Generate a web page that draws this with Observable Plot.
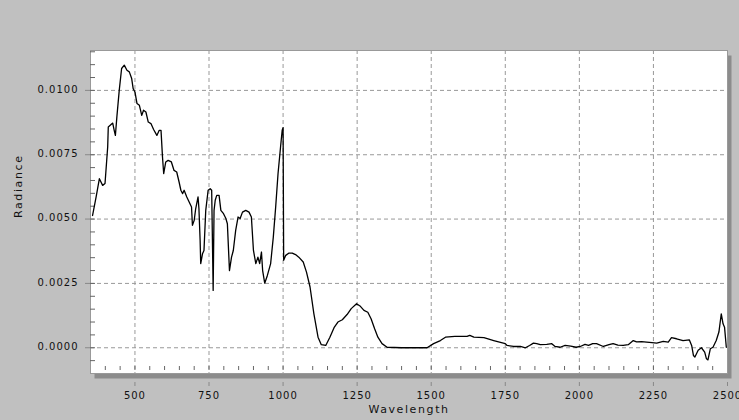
<!DOCTYPE html>
<html><head><meta charset="utf-8">
<script src="https://cdn.jsdelivr.net/npm/d3@7"></script>
<script src="https://cdn.jsdelivr.net/npm/@observablehq/plot@0.6"></script>
<style>
html,body{margin:0;padding:0;background:#c0c0c0;overflow:hidden;}
</style></head><body><div id="chart"></div>
<script>
const wavelength = [357,369,380,391,399,408,410,425,430,434,439,447,455,464,473,481,489,494,500,507,515,523,529,537,545,554,563,574,582,588,593,597,604,612,623,632,641,649,655,661,666,675,683,691,694,700,705,713,716,720,722,728,733,739,747,754,759,764,767,771,776,784,790,799,807,812,816,819,826,832,840,848,855,863,874,885,893,900,908,915,921,927,931,938,947,958,967,975,983,992,997,1000,1002,1009,1020,1031,1042,1053,1068,1079,1091,1104,1118,1129,1144,1158,1172,1185,1200,1216,1230,1248,1261,1273,1286,1297,1309,1320,1334,1351,1400,1486,1508,1531,1548,1580,1621,1630,1644,1678,1711,1750,1756,1778,1801,1818,1832,1845,1856,1868,1890,1907,1918,1935,1952,1971,1989,2003,2019,2031,2045,2058,2081,2100,2114,2130,2148,2165,2182,2193,2210,2227,2245,2261,2283,2300,2311,2328,2350,2371,2379,2385,2390,2401,2412,2423,2429,2434,2442,2451,2462,2471,2479,2485,2490,2496];
const radiance = [0.00514,0.00586,0.00657,0.00631,0.00638,0.0078,0.00858,0.00873,0.00845,0.00825,0.00897,0.0100,0.01085,0.01098,0.01078,0.01072,0.01046,0.01007,0.00994,0.00949,0.00942,0.00903,0.00923,0.00916,0.00877,0.00871,0.00848,0.00825,0.00845,0.00845,0.00741,0.00677,0.00722,0.00728,0.00722,0.00689,0.00683,0.00644,0.00612,0.00599,0.00612,0.00586,0.00566,0.00547,0.00476,0.00495,0.0054,0.00586,0.0054,0.00417,0.00327,0.00365,0.00378,0.00534,0.00612,0.00618,0.00612,0.00223,0.00534,0.00573,0.00592,0.00592,0.00534,0.00521,0.00502,0.00482,0.00378,0.0030,0.00352,0.00378,0.00456,0.00508,0.00502,0.00527,0.00534,0.00527,0.00508,0.00378,0.00327,0.00352,0.00327,0.00372,0.0030,0.00251,0.00281,0.00327,0.0043,0.00547,0.00677,0.00787,0.00845,0.00855,0.00340,0.00359,0.00368,0.00368,0.00362,0.00352,0.00333,0.00294,0.00236,0.00132,0.00041,0.00012,0.00009,0.00041,0.00078,0.0010,0.00109,0.00129,0.00152,0.00171,0.00161,0.00145,0.00138,0.00113,0.00074,0.00041,0.00016,0.00002,0.0,0.0,0.00016,0.00028,0.00041,0.00044,0.00044,0.00048,0.00041,0.00039,0.00028,0.00016,0.00009,0.00005,0.00005,0.0,0.00009,0.00018,0.00016,0.00012,0.00013,0.00016,0.00005,0.00002,0.00009,0.00006,0.00002,0.00005,0.00013,0.00009,0.00016,0.00016,0.00005,0.00012,0.00016,0.00010,0.00009,0.00012,0.00028,0.00023,0.00024,0.00022,0.00020,0.00018,0.00025,0.00022,0.00039,0.00035,0.00028,0.00031,0.00009,-0.0003,-0.00036,-0.0001,0.0,-0.00017,-0.00043,-0.00047,-0.00004,0.00002,0.00028,0.00061,0.00132,0.00093,0.0008,0.00002];
const xTicks = [500,750,1000,1250,1500,1750,2000,2250,2500];
const yTicks = [0,0.0025,0.005,0.0075,0.01];
const xTickLabels = ["500","750","1000","1250","1500","1750","2000","2250","2500"];
const yTickLabels = ["0.0000","0.0025","0.0050","0.0075","0.0100"];
const xMinor = d3.range(400, 2500, 50);
const yMinor = d3.range(-0.0005, 0.0116, 0.0005);
const xLabel = "Wavelength";
const yLabel = "Radiance";

const data = wavelength.map((w, i) => ({w, r: radiance[i]}));

const chart = Plot.plot({
  width: 739, height: 420,
  marginLeft: 90, marginRight: 12, marginTop: 50, marginBottom: 47,
  style: {background: "#c0c0c0", fontFamily: "DejaVu Sans", fontSize: "10px", overflow: "visible", letterSpacing: "1px"},
  x: {domain: [350, 2500], axis: null},
  y: {domain: [-0.001, 0.01155], axis: null},
  marks: [
    Plot.frame({fill: "#8c8c8c", stroke: null, dx: 4, dy: 5}),
    Plot.frame({fill: "white", stroke: "#999"}),
    Plot.ruleX(xTicks, {stroke: "#999", strokeDasharray: "4,3", strokeOpacity: 1}),
    Plot.ruleY(yTicks, {stroke: "#999", strokeDasharray: "4,3", strokeOpacity: 1}),
    Plot.ruleX(xMinor, {stroke: "#666", insetTop: 316, insetBottom: 3}),
    Plot.ruleY(yMinor, {stroke: "#666", insetRight: 632}),
    Plot.line(data, {x: "w", y: "r", stroke: "black", strokeWidth: 1.3}),
    Plot.ruleX(xTicks, {stroke: "#888", insetTop: 332, insetBottom: -13}),
    Plot.ruleY(yTicks, {stroke: "#888", insetLeft: -5, insetRight: 637}),
    Plot.text(xTicks, {x: d => d, text: (d, i) => xTickLabels[i], frameAnchor: "bottom", dy: 25, fill: "#111"}),
    Plot.text(yTicks, {y: d => d, text: (d, i) => yTickLabels[i], frameAnchor: "left", dx: -12, dy: -1, textAnchor: "end", fill: "#111"}),
    Plot.text([xLabel], {text: d => d, frameAnchor: "bottom", dy: 39, fontSize: 11, fill: "#111"}),
    Plot.text([yLabel], {text: d => d, frameAnchor: "left", dx: -72, dy: 6, rotate: -90, fontSize: 11, fill: "#111"})
  ]
});
chart.querySelectorAll("text").forEach(t => {
  if (t.textContent === xLabel || t.textContent === yLabel) t.style.letterSpacing = "1.6px";
});
document.getElementById("chart").appendChild(chart);
</script></body></html>
